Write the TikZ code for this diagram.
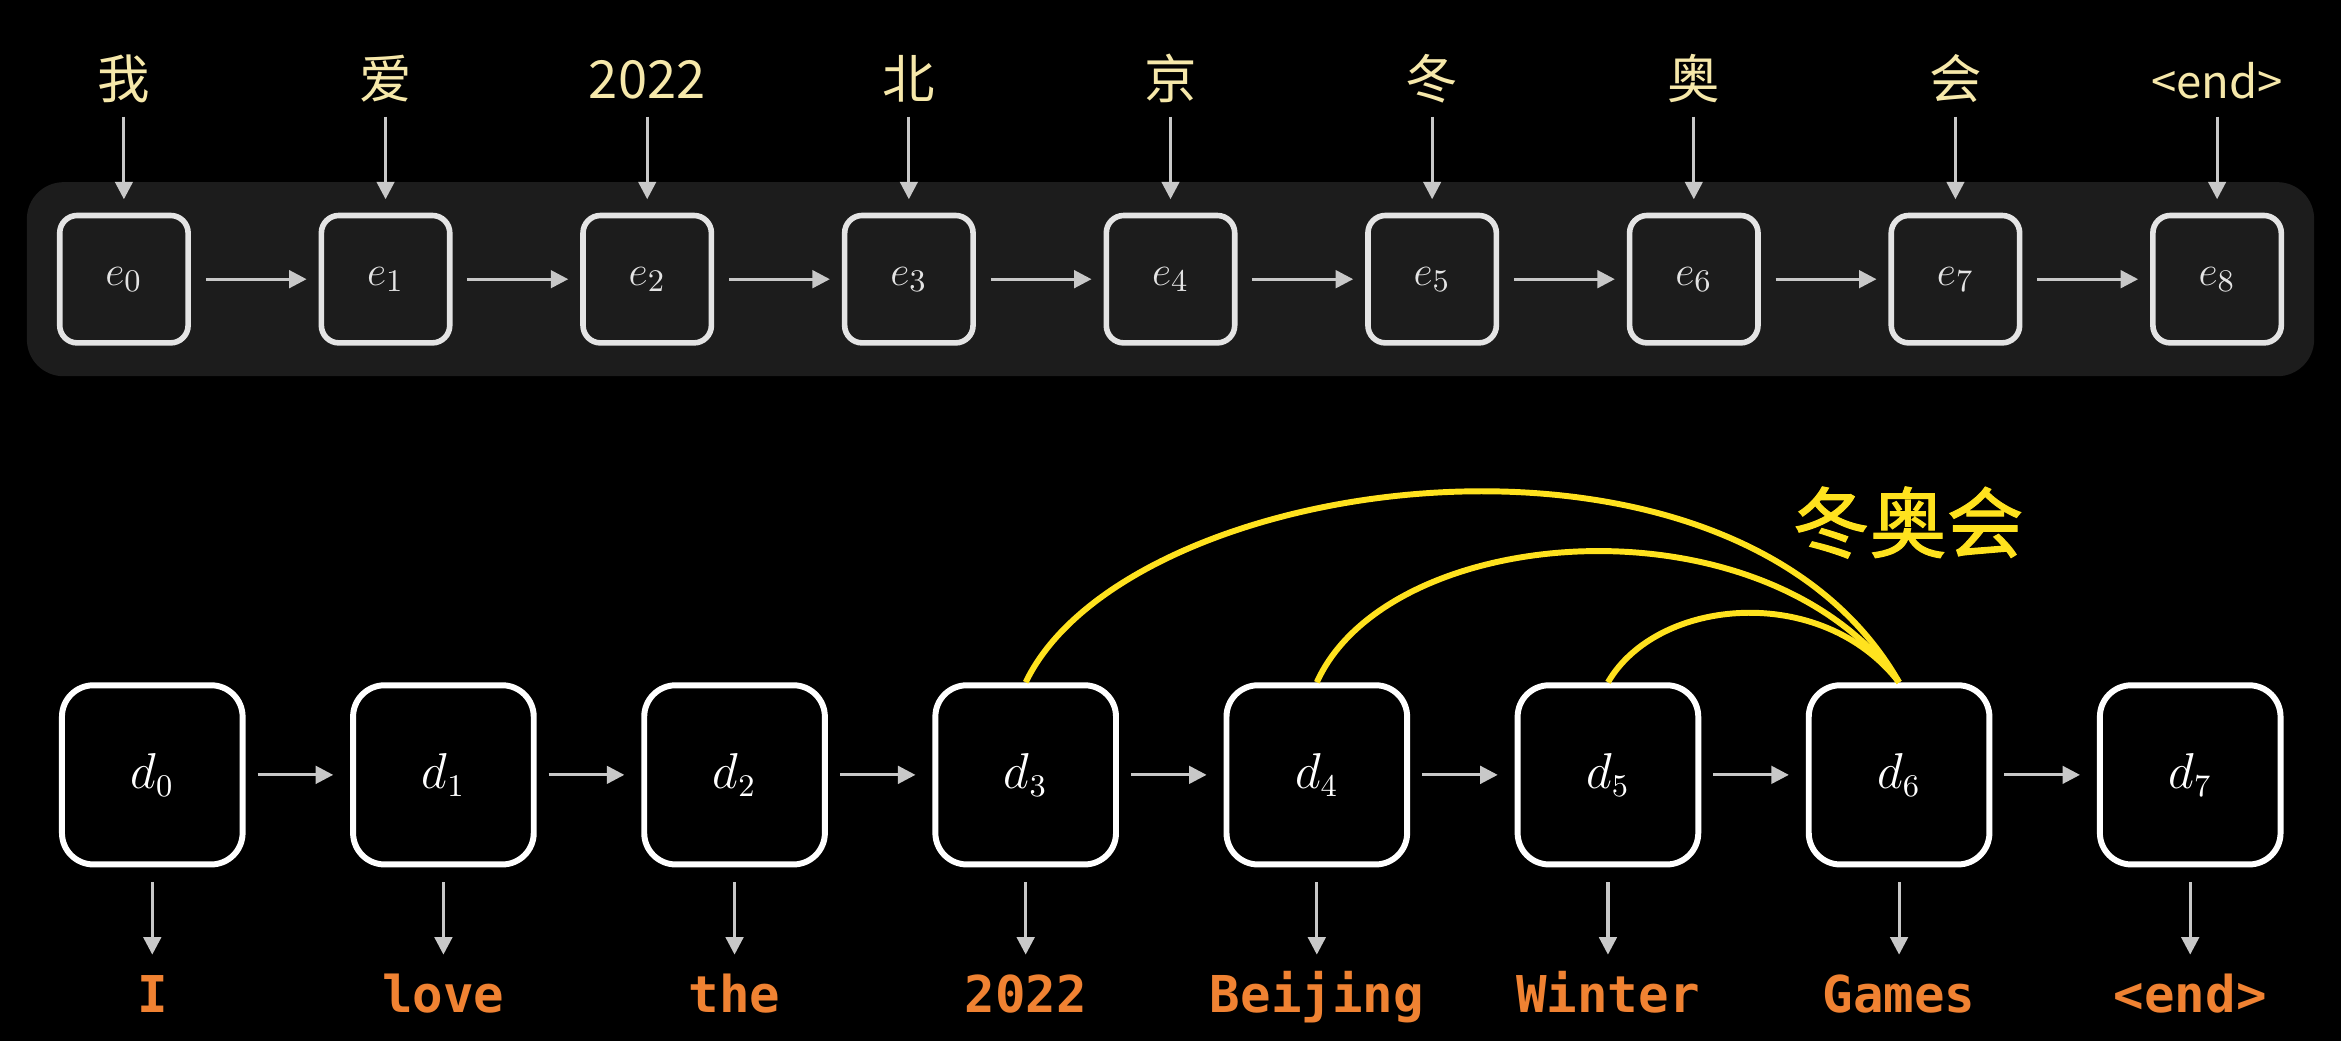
\documentclass[tikz,border=0pt]{standalone}
\usepackage{fontspec}
\newfontfamily\cjk{Noto Sans CJK SC}
\newfontfamily\cjkmed[FakeBold=1.4]{Noto Sans CJK SC}
\newfontfamily\monof{DejaVu Sans Mono}
\usetikzlibrary{arrows.meta}
\definecolor{panel}{RGB}{28,28,28}
\definecolor{toplab}{RGB}{246,232,170}
\definecolor{arrowgrey}{RGB}{200,200,200}
\definecolor{ebord}{RGB}{228,228,228}
\definecolor{orangelab}{RGB}{240,130,50}
\definecolor{arcyellow}{RGB}{255,226,30}
\begin{document}
\begin{tikzpicture}[x=0.015cm,y=-0.015cm,
  ebox/.style={draw=ebord,line width=1.6pt,rounded corners=5pt,minimum width=1.29cm,minimum height=1.28cm,inner sep=0pt,text=ebord,font=\fontsize{12.5}{14}\selectfont},
  dbox/.style={draw=white,line width=1.7pt,rounded corners=9pt,minimum width=1.815cm,minimum height=1.8cm,inner sep=0pt,text=white,font=\fontsize{13.5}{15}\selectfont},
  toplabel/.style={anchor=base,inner sep=0pt,text depth=2pt,text=toplab,font=\cjk\fontsize{15}{18}\selectfont},
  botlabel/.style={anchor=base,inner sep=0pt,text height=12pt,text=orangelab,font=\monof\bfseries\fontsize{14.5}{17}\selectfont},
  garrow/.style={draw=arrowgrey,line width=0.9pt,-{Triangle[length=5pt,width=5pt]}},
  yarc/.style={draw=arcyellow,line width=1.7pt}]

\fill[black] (0,0) rectangle (1568,697);
\useasboundingbox (0,0) rectangle (1568,697);
\fill[panel, rounded corners=10.5pt] (18,122) rectangle (1550,252);

% encoder
\foreach \t [count=\i from 0] in {我,爱,2022,北,京,冬,奥,会,{\fontsize{13}{16}\selectfont<end>}} {
  \node[ebox] (e\i) at ({83+175.25*\i},187) {$e_{\i}$};
  \node[toplabel] (t\i) at ({83+175.25*\i},66) {\t};
  \draw[garrow,shorten <=0.105cm,shorten >=0.135cm] (t\i.south) -- (e\i.north);
}
\foreach \i [evaluate=\i as \j using int(\i+1)] in {0,...,7} {
  \draw[garrow,shorten <=0.15cm,shorten >=0.12cm] (e\i.east) -- (e\j.west);
}

% decoder
\foreach \t [count=\i from 0] in {I,love,the,2022,Beijing,Winter,Games,<end>} {
  \node[dbox] (d\i) at ({102+195*\i},519) {$d_{\i}$};
  \node[botlabel] (b\i) at ({102+195*\i},678) {\t};
  \draw[garrow,shorten <=0.15cm,shorten >=0.15cm] (d\i.south) -- (b\i.north);
}
\foreach \i [evaluate=\i as \j using int(\i+1)] in {0,...,6} {
  \draw[garrow,shorten <=0.12cm,shorten >=0.17cm] (d\i.east) -- (d\j.west);
}

% attention arcs
\draw[yarc] (d3.north) .. controls (755,315) and (1160,260) .. (d6.north);
\draw[yarc] (d4.north) .. controls (930,350) and (1180,330) .. (d6.north);
\draw[yarc] (d5.north) .. controls (1110,400) and (1220,390) .. (d6.north);
\node[text=arcyellow,font=\cjkmed\fontsize{22}{26}\selectfont] (title) at (1278,350) {冬奥会};
\end{tikzpicture}
\end{document}
